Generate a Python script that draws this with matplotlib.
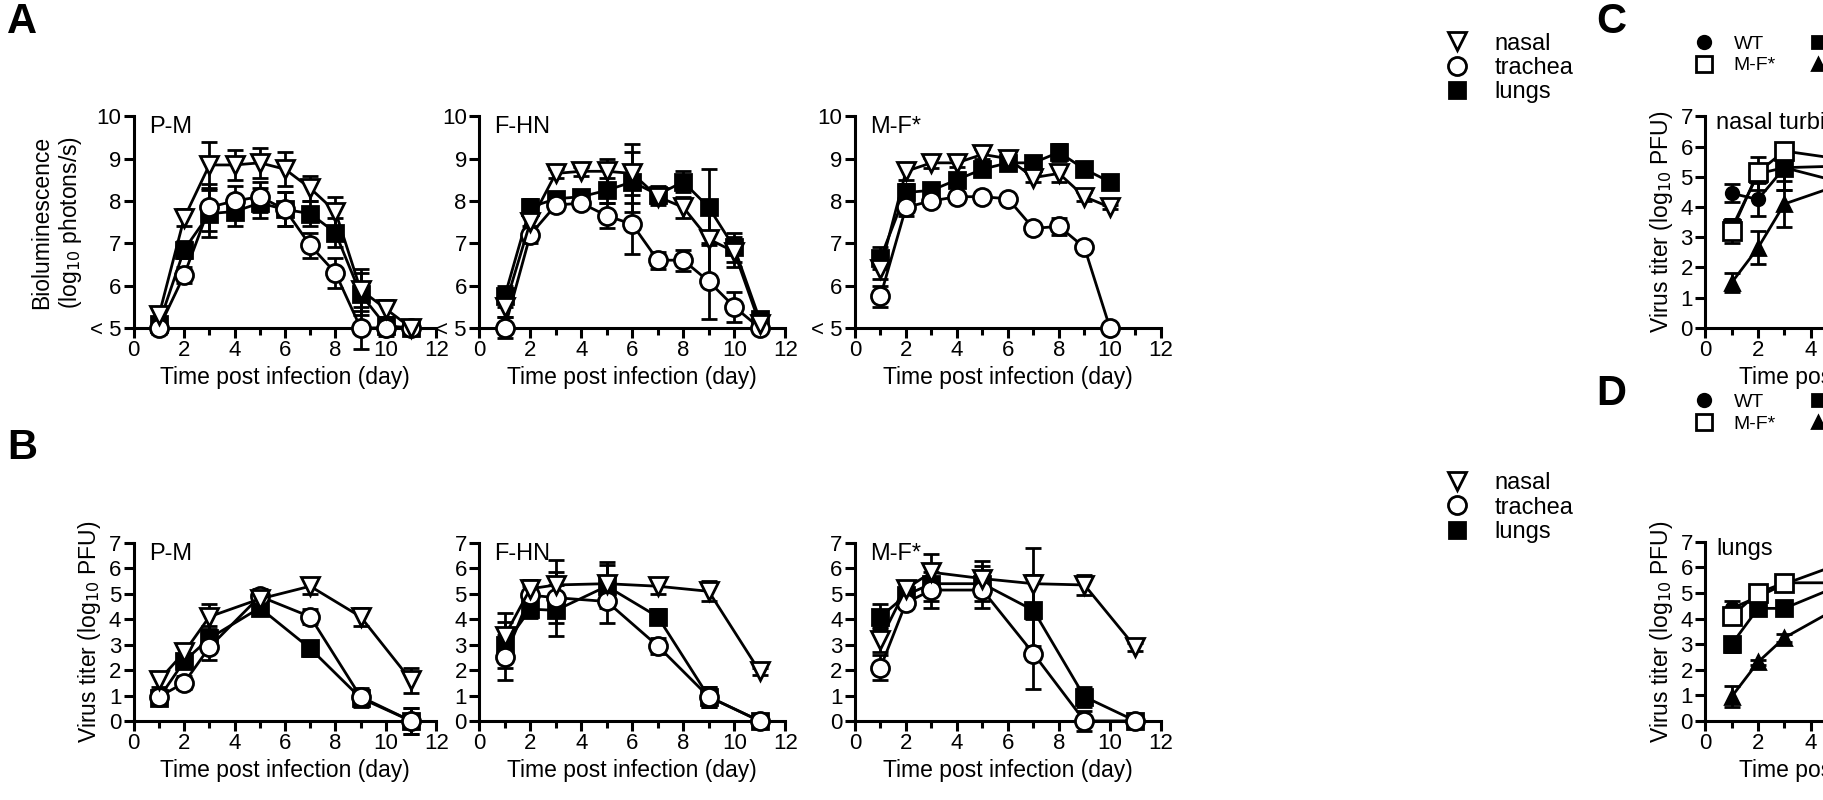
import matplotlib
matplotlib.use("Agg")
import matplotlib.pyplot as plt
import numpy as np
from matplotlib.lines import Line2D

plt.rcParams['font.family'] = ['Liberation Sans', 'DejaVu Sans']

# ---- Data ----
daysA = [1,2,3,4,5,6,7,8,9,10,11]
daysA3 = [1,2,3,4,5,6,7,8,9,10]
A_PM_nasal = [5.3,7.6,8.85,8.85,8.9,8.75,8.3,7.75,5.9,5.45,5.0]
A_PM_trach = [5.0,6.25,7.85,8.0,8.1,7.8,6.95,6.3,5.0,5.0,5.0]
A_PM_lungs = [5.1,6.85,7.7,7.75,7.95,7.8,7.7,7.25,5.8,5.05,5.0]
A_PM_err = [0.15,0.2,0.55,0.35,0.35,0.4,0.3,0.35,0.5,0.2,0.05]
A_FHN_nasal = [5.5,7.5,8.65,8.7,8.7,8.65,8.1,7.85,7.1,6.8,5.1]
A_FHN_trach = [5.0,7.2,7.9,7.95,7.65,7.45,6.6,6.6,6.1,5.5,5.0]
A_FHN_lungs = [5.75,7.85,8.05,8.1,8.25,8.45,8.15,8.45,7.85,6.9,5.2]
A_FHN_err = [0.25,0.2,0.1,0.1,0.3,0.7,0.2,0.25,0.9,0.35,0.1]
A_MF_nasal = [6.4,8.7,8.9,8.9,9.1,9.0,8.55,8.65,8.1,7.85]
A_MF_trach = [5.75,7.85,8.0,8.1,8.1,8.05,7.35,7.4,6.9,5.0]
A_MF_lungs = [6.65,8.2,8.25,8.5,8.75,8.9,8.9,9.15,8.75,8.45]
A_MF_err = [0.25,0.2,0.12,0.1,0.12,0.1,0.1,0.2,0.1,0.05]

daysB = [1,2,3,5,7,9,11]
B_PM_nasal = [1.6,2.7,4.1,4.8,5.3,4.1,1.6]
B_PM_trach = [0.95,1.5,2.9,4.9,4.1,0.95,0.0]
B_PM_lungs = [0.9,2.35,3.25,4.45,2.85,0.9,0.0]
B_PM_err = [0.25,0.25,0.5,0.3,0.3,0.35,0.5]
B_FHN_nasal = [3.35,5.2,5.35,5.4,5.3,5.1,1.95]
B_FHN_trach = [2.5,4.95,4.85,4.7,2.95,0.95,0.0]
B_FHN_lungs = [3.0,4.4,4.35,5.3,4.1,0.95,0.0]
B_FHN_err = [0.9,0.35,1.0,0.85,0.3,0.4,0.15]
B_MF_nasal = [3.2,5.2,5.85,5.6,5.4,5.35,2.9]
B_MF_trach = [2.1,4.65,5.15,5.15,2.65,0.0,0.0]
B_MF_lungs = [4.1,4.95,5.4,5.4,4.35,0.95,0.0]
B_MF_err = [0.5,0.2,0.7,0.7,1.4,0.4,0.15]

daysC = [1,2,3,5,7,9,11]
daysC_MF = [1,2,3,7,9,11]
C_WT = [4.45,4.25,5.3,4.85,5.3,5.4,1.85]
C_MF = [3.2,5.15,5.85,5.35,5.25,2.85]
C_FHN = [3.3,5.1,5.3,5.35,5.3,5.1,1.85]
C_PM = [1.5,2.65,4.1,4.7,5.3,4.15,1.6]
C_err = [0.3,0.55,0.75,0.15,0.1,0.25,0.4]
C_MF_err = [0.4,0.15,0.25,0.1,0.15,0.3]

D_WT = [4.4,4.85,5.35,6.1,5.1,1.0,0.0]
D_MF = [4.1,5.0,5.4,5.4,4.4,0.95,0.0]
D_FHN = [3.0,4.4,4.4,5.25,4.1,0.95,0.0]
D_PM = [0.95,2.3,3.25,4.4,2.85,0.95,0.0]
D_err = [0.3,0.15,0.15,0.1,0.45,0.4,0.05]
D_PM_err = [0.4,0.1,0.15,0.1,0.95,0.3,0.05]

fig = plt.figure(figsize=(18.24, 8), dpi=100)
W, H = 1568, 688  # coordinate frame used for layout (scaled to figure)

def ax_at(x0, x1, ytop, ybot):
    return fig.add_axes([x0/W, 1-ybot/H, (x1-x0)/W, (ybot-ytop)/H])

def style(ax, ymin, ymax, yticks, ylabels):
    ax.set_xlim(0, 12)
    ax.set_ylim(ymin, ymax)
    ax.set_xticks(range(0, 13, 2))
    ax.set_xticks(range(1, 12, 2), minor=True)
    ax.set_yticks(yticks)
    ax.set_yticklabels(ylabels)
    for s in ['top', 'right']:
        ax.spines[s].set_visible(False)
    for s in ['left', 'bottom']:
        ax.spines[s].set_linewidth(2.2)
    ax.tick_params(width=2.2, length=7, labelsize=16, pad=2)
    ax.tick_params(which='minor', width=2.2, length=5)
    ax.set_xlabel('Time post infection (day)', fontsize=16.5, labelpad=3)

def series(ax, x, y, err, marker, face, ms):
    ax.errorbar(x, y, yerr=err, color='black', lw=2, marker=marker, ms=ms,
                mfc=face, mec='black', mew=2, capsize=6, capthick=2,
                elinewidth=2, clip_on=False, zorder=3)

def rowA(ax, x, n, t, l, e, title):
    series(ax, x, l, e, 's', 'black', 11)
    series(ax, x, t, e, 'o', 'white', 13)
    series(ax, x, n, e, 'v', 'white', 13)
    style(ax, 5, 10, [5,6,7,8,9,10], ['< 5','6','7','8','9','10'])
    ax.text(0.6, 10.0, title, fontsize=17, va='top')

def rowB(ax, x, n, t, l, e, title):
    series(ax, x, l, e, 's', 'black', 11)
    series(ax, x, t, e, 'o', 'white', 13)
    series(ax, x, n, e, 'v', 'white', 13)
    style(ax, 0, 7, range(8), [str(i) for i in range(8)])
    ax.text(0.6, 7.0, title, fontsize=17, va='top')

a1 = ax_at(115, 375, 100, 282)
rowA(a1, daysA, A_PM_nasal, A_PM_trach, A_PM_lungs, A_PM_err, 'P-M')
a1.set_ylabel('Bioluminescence\n(log$_{10}$ photons/s)', fontsize=16.5)
a2 = ax_at(412, 675, 100, 282)
rowA(a2, daysA, A_FHN_nasal, A_FHN_trach, A_FHN_lungs, A_FHN_err, 'F-HN')
a3 = ax_at(735, 998, 100, 282)
rowA(a3, daysA3, A_MF_nasal, A_MF_trach, A_MF_lungs, A_MF_err, 'M-F*')

b1 = ax_at(115, 375, 467, 620)
rowB(b1, daysB, B_PM_nasal, B_PM_trach, B_PM_lungs, B_PM_err, 'P-M')
b1.set_ylabel('Virus titer (log$_{10}$ PFU)', fontsize=16.5)
b2 = ax_at(412, 675, 467, 620)
rowB(b2, daysB, B_FHN_nasal, B_FHN_trach, B_FHN_lungs, B_FHN_err, 'F-HN')
b3 = ax_at(735, 998, 467, 620)
rowB(b3, daysB, B_MF_nasal, B_MF_trach, B_MF_lungs, B_MF_err, 'M-F*')

def rowC(ax, title):
    style(ax, 0, 7, range(8), [str(i) for i in range(8)])
    ax.set_ylabel('Virus titer (log$_{10}$ PFU)', fontsize=16.5)
    ax.text(0.4, 7.15, title, fontsize=17, va='top')

c = ax_at(1466, 1782*0+1777, 100, 282)
c.set_position([1466/W, 1-282/H, (1782-1466)/W*0.86, 182/H])
series(c, daysC, C_WT, C_err, 'o', 'black', 9)
series(c, daysC, C_FHN, C_err, 's', 'black', 11)
series(c, daysC, C_PM, C_err, '^', 'black', 10)
series(c, daysC_MF, C_MF, C_MF_err, 's', 'white', 13)
rowC(c, 'nasal turbinates')

d = ax_at(1466, 1777, 466, 620)
d.set_position([1466/W, 1-620/H, (1782-1466)/W*0.86, 154/H])
series(d, daysC, D_WT, D_err, 'o', 'black', 9)
series(d, daysC, D_FHN, D_err, 's', 'black', 11)
series(d, daysC, D_PM, D_PM_err, '^', 'black', 10)
series(d, daysC, D_MF, D_err, 's', 'white', 13)
rowC(d, 'lungs')

def h(m, f, ms):
    return Line2D([], [], ls='none', marker=m, mfc=f, mec='black', mew=2, ms=ms)

for ytop in [18, 404-8]:
    fig.legend([h('v','white',13), h('o','white',13), h('s','black',11)],
               ['nasal','trachea','lungs'], loc='upper left',
               bbox_to_anchor=(1222/W, 1-ytop/H), frameon=False, fontsize=17,
               handletextpad=0.6, labelspacing=0.1, borderpad=0)
for ytop in [22, 330]:
    fig.legend([h('o','black',9), h('s','white',11), h('s','black',9), h('^','black',9)],
               ['WT','M-F*','F-HN','P-M'], loc='upper left', ncol=2,
               bbox_to_anchor=(1575/W*0+1440/1568*0+ (1650-172)/W*0 + 1440/W, 1-ytop/H), frameon=False, fontsize=14,
               handletextpad=0.5, labelspacing=0.2, columnspacing=1.2, borderpad=0)

for lbl, x, y in [('A', 6, 2), ('B', 6, 368), ('C', 1372, 2), ('D', 1372, 322)]:
    fig.text(x/W, 1-y/H, lbl, fontsize=30, fontweight='bold', va='top')

fig.savefig('out.png', dpi=100)
